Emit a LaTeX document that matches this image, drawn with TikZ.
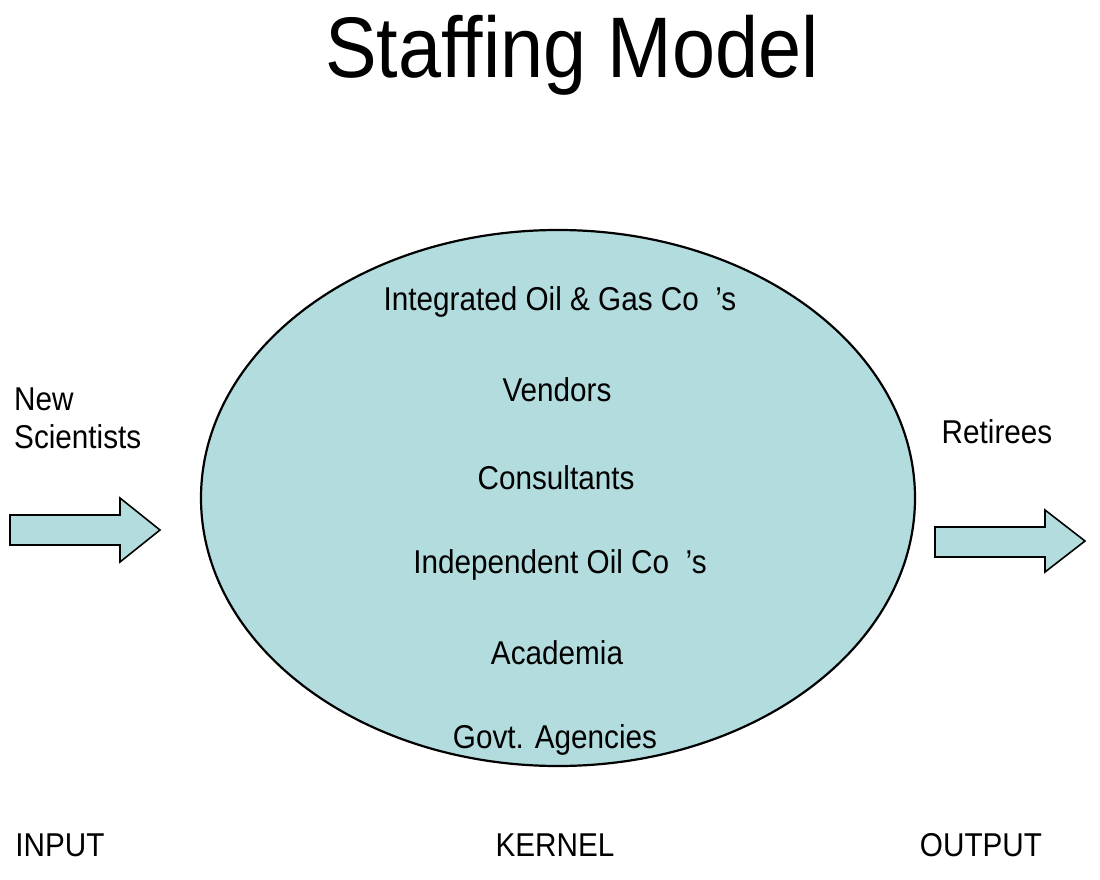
\documentclass[tikz,border=0pt]{standalone}
\usepackage{fontspec}
\setmainfont[FakeStretch=0.9]{Liberation Sans}
\definecolor{kern}{RGB}{178,220,222}
\begin{document}
\begin{tikzpicture}[x=1pt,y=-1pt,
  lbl/.style={inner sep=0pt,font=\fontsize{33}{38}\selectfont},
  arr/.style={draw=black,line width=1.6pt,fill=kern,line join=miter}]
\useasboundingbox (0,0) rectangle (1100,880);
\node[inner sep=0pt,font=\fontsize{86}{90}\selectfont] (title) at (572,55) {Staffing Model};
\draw[fill=kern,line width=2.2pt] (558,498) ellipse [x radius=357pt, y radius=268pt];
\node[lbl] (k1) at (560,302) {Integrated Oil \& Gas Co\enspace's};
\node[lbl] (k2) at (557,390) {Vendors};
\node[lbl] (k3) at (556,478) {Consultants};
\node[lbl] (k4) at (560,565) {Independent Oil Co\enspace's};
\node[lbl] (k5) at (557,653) {Academia};
\node[lbl] (k6) at (555,740) {Govt. Agencies};
\node[lbl,anchor=west,align=left] (new) at (14,418) {New\\Scientists};
\node[lbl] (ret) at (997,432) {Retirees};
\node[lbl] (in) at (60,845) {INPUT};
\node[lbl] (ke) at (555,845) {KERNEL};
\node[lbl] (out) at (981,845) {OUTPUT};
\draw[arr] (10,515) -- (120,515) -- (120,498) -- (160,530) -- (120,562) -- (120,545) -- (10,545) -- cycle;
\draw[arr] (935,527) -- (1045,527) -- (1045,510) -- (1085,541) -- (1045,572) -- (1045,557) -- (935,557) -- cycle;
\end{tikzpicture}
\end{document}
